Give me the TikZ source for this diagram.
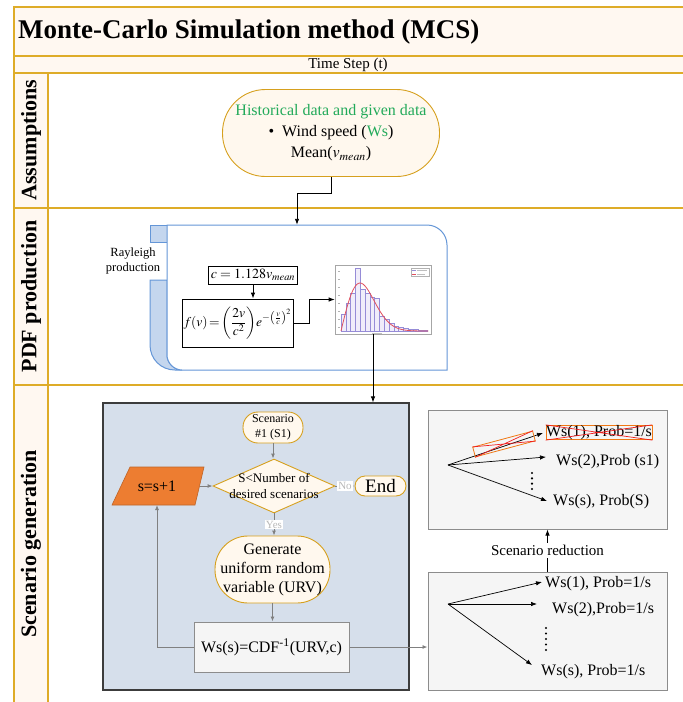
\documentclass[tikz,border=0pt]{standalone}
\usepackage{mathptmx}
\usepackage{fontspec}
\setmainfont{Liberation Serif}
\usetikzlibrary{arrows.meta,shapes.geometric,calc}
\definecolor{gold}{RGB}{222,172,40}
\definecolor{cream}{RGB}{255,248,241}
\definecolor{stadfill}{RGB}{255,248,238}
\definecolor{stadline}{RGB}{214,160,30}
\definecolor{pdfline}{RGB}{100,150,215}
\definecolor{pdffill}{RGB}{196,214,238}
\definecolor{sgfill}{RGB}{214,223,235}
\definecolor{sgline}{RGB}{60,60,60}
\definecolor{boxfill}{RGB}{245,245,245}
\definecolor{boxline}{RGB}{140,140,140}
\definecolor{arrgray}{RGB}{128,128,128}
\definecolor{orng}{RGB}{237,125,49}
\definecolor{txtgreen}{RGB}{34,170,90}
\definecolor{labgray}{RGB}{185,185,185}
\definecolor{xred}{RGB}{240,30,30}
\definecolor{xorange}{RGB}{240,120,20}
\definecolor{barline}{RGB}{150,140,215}
\definecolor{barfill}{RGB}{240,237,250}
\definecolor{curvered}{RGB}{225,80,95}
\begin{document}
\begin{tikzpicture}[x=1pt,y=-1pt,
  arr/.style={-{Latex[length=6pt,width=4.5pt]}, black, line width=0.9pt},
  garr/.style={-{Latex[length=5pt,width=4pt]}, arrgray, line width=0.9pt},
  stad/.style={draw=stadline, fill=stadfill, line width=0.9pt, inner sep=1pt, align=center},
  plainbox/.style={draw=black, line width=0.8pt, inner sep=1pt},
  greybox/.style={draw=boxline, fill=boxfill, line width=1pt, inner sep=0pt},
  lbl/.style={fill=white, text=labgray, inner sep=1pt, font=\fontsize{11}{13}\selectfont},
  rowlab/.style={rotate=90, inner sep=0pt, font=\bfseries\fontsize{22}{26}\selectfont},
  fsixteen/.style={font=\fontsize{16}{19}\selectfont},
  goldline/.style={draw=gold, line width=1.5pt}
]
\useasboundingbox (0,0) rectangle (683,702);
% backgrounds
\fill[cream] (14,7) rectangle (683,73);
\fill[cream] (14,73) rectangle (48,702);
\draw[goldline] (683,7) -- (14,7) -- (14,702);
\draw[goldline] (14,56) -- (683,56);
\draw[goldline] (14,73) -- (683,73);
\draw[goldline] (48,73) -- (48,702);
\draw[goldline] (14,208) -- (683,208);
\draw[goldline] (14,385) -- (683,385);
% titles
\node[anchor=west, inner sep=0pt, font=\bfseries\fontsize{27}{32}\selectfont] (title) at (18,32) {Monte-Carlo Simulation method (MCS)};
\node[inner sep=0pt, font=\fontsize{15}{18}\selectfont] (tstep) at (348,65) {Time Step (t)};
\node[rowlab] (labA) at (31,140) {Assumptions};
\node[rowlab] (labB) at (31,296.5) {PDF production};
\node[rowlab] (labC) at (31,544) {Scenario generation};
% assumptions
\node[stad, rounded corners=43pt, minimum width=217pt, minimum height=87pt, font=\fontsize{16}{21}\selectfont] (hist) at (331,133)
  {\textcolor{txtgreen}{Historical data and given data}\\ \textbullet\enspace Wind speed (\textcolor{txtgreen}{Ws})\\ Mean($v_{mean}$)};
% PDF box shapes
\draw[draw=pdfline, fill=pdffill, line width=1pt] (150,225) rectangle (167,242);
\draw[draw=pdfline, fill=pdffill, line width=1pt] (150,280) -- (167,280) -- (167,355) .. controls (167,363) and (174,370) .. (182,370) -- (175,370) .. controls (161,370) and (150,359) .. (150,345) -- cycle;
\draw[draw=pdfline, fill=white, line width=1pt] (167,225) -- (427,225) .. controls (438,225) and (447,234) .. (447,245) -- (447,370) -- (182,370) .. controls (174,370) and (167,363) .. (167,355) -- cycle;
\node[minimum width=280pt, minimum height=145pt, inner sep=0pt] (pdfbox) at (307,297.5) {};
\node[align=center, inner sep=0pt, font=\fontsize{12.5}{15}\selectfont] (rayl) at (133,261) {Rayleigh\\production};
\node[plainbox, minimum width=80pt, minimum height=18pt, inner sep=2pt, font=\fontsize{14}{17}\selectfont] (cbox) at (253,275) {$c=1.128v_{mean}$};
\node[plainbox, minimum width=111pt, minimum height=48pt, inner sep=1pt, font=\fontsize{13.5}{16}\selectfont] (fbox) at (237.5,323)
  {$f(v)\!=\!\left(\displaystyle\frac{2v}{c^2}\right)\!e^{-\left(\frac{v}{c}\right)^2}$};
% chart
\node[draw=gray!70, fill=white, line width=0.6pt, minimum width=96pt, minimum height=69pt, inner sep=0pt] (chart) at (383,299.5) {};
\foreach \t [count=\i from 0] in {314,303,293,268,289,293,297,298,316,319,323,326,327,328,329,329.5,330,330.3}
  {\draw[barline, fill=barfill, line width=0.4pt] ({341+4.8*\i},331) rectangle ({341+4.8*(\i+1)},\t);}
\draw[curvered, line width=0.8pt, domain=0:4.6, samples=60, smooth] plot ({341+19*\x},{331-48*\x*exp(0.5-\x*\x/2)});
\draw[gray!60, line width=0.3pt] (411,268) rectangle (429,276);
\draw[barline, line width=0.4pt] (412,270) -- (416,270);
\draw[curvered, line width=0.4pt] (412,274) -- (416,274);
\draw[gray!50, line width=0.4pt] (417,270) -- (427,270) (417,274) -- (425,274);
\foreach \yy in {271,279,...,327} {\draw[gray!60, line width=0.3pt] (338,\yy) -- (340,\yy);}
\draw[gray!50, line width=0.5pt] (372,333) -- (382,333);
% connectors upper part
\draw[arr] (hist.south) -- ++(0,16) -| ([xshift=-10pt]pdfbox.north);
\draw[arr] (cbox.south) -- (cbox.south |- fbox.north);
\draw[arr] (fbox.east) -- ++(16,0) |- (chart.west);
% scenario generation box
\node[draw=sgline, fill=sgfill, line width=1.1pt, minimum width=306pt, minimum height=287pt, inner sep=0pt] (sgbox) at (256,546.5) {};
\draw[arr] ([xshift=-10pt]chart.south) -- ([xshift=-10pt]chart.south |- sgbox.north);
\node[stad, rounded corners=15pt, minimum width=60pt, minimum height=31pt, font=\fontsize{12}{15}\selectfont] (sone) at (273,427.5) {Scenario\\\#1 (S1)};
\node[diamond, draw=stadline, fill=stadfill, line width=0.9pt, minimum width=122pt, minimum height=54pt, inner sep=0pt] (dec) at (274,486) {};
\node[align=center, inner sep=0pt, font=\fontsize{13}{16}\selectfont] (dectxt) at (274,486) {S<Number of\\desired scenarios};
\node[stad, rounded corners=10pt, minimum width=51pt, minimum height=20pt, inner sep=0pt, font=\fontsize{19}{22}\selectfont] (endn) at (380.5,486) {End};
\draw[fill=orng, draw=orng!80!black, line width=0.6pt] (130,467) -- (204,467) -- (195,505) -- (112,505) -- cycle;
\node[inner sep=0pt, fsixteen] (sinc) at (157,486) {s=s+1};
\coordinate (sincR) at (200,486);
\coordinate (sincB) at (157,505);
\node[stad, rounded corners=33pt, minimum width=115pt, minimum height=67pt, font=\fontsize{16}{19}\selectfont] (gen) at (272.5,569.5) {Generate\\uniform random\\variable (URV)};
\node[greybox, minimum width=155pt, minimum height=50pt, fsixteen] (wsb) at (271.5,647) {Ws(s)=CDF\textsuperscript{-1}(URV,c)};
\draw[garr] (sone.south) -- (sone.south |- dec.north);
\draw[garr] (dec.east) -- node[lbl]{No} (endn.west);
\draw[garr] (dec.south) -- node[lbl]{Yes} (dec.south |- gen.north);
\draw[garr] (sincR) -- (dec.west);
\draw[garr] (gen.south) -- (gen.south |- wsb.north);
\draw[garr] (wsb.west) -| (sincB);
% right boxes
\node[greybox, minimum width=239pt, minimum height=118pt] (redA) at (547.5,631) {};
\node[greybox, minimum width=239pt, minimum height=119pt] (redB) at (547.5,469.5) {};
\draw[garr] (wsb.east) -- (wsb.east -| redA.west);
\draw[arr] (redA.north) -- node[fill=white, inner sep=2pt, font=\fontsize{15}{18}\selectfont] (redlab) {Scenario reduction} (redB.south);
% lower box content
\coordinate (oA) at (448,604);
\coordinate (tA1) at (542,582);
\coordinate (tA2) at (537,604);
\coordinate (tA3) at (532,665);
\draw[arr, line width=0.7pt] (oA) -- (tA1);
\draw[arr, line width=0.7pt] (oA) -- (tA2);
\draw[arr, line width=0.7pt] (oA) -- (tA3);
\node[anchor=west, inner sep=0pt, fsixteen] (wa1) at (545,584) {Ws(1), Prob=1/s};
\node[anchor=west, inner sep=0pt, fsixteen] (wa2) at (552,610) {Ws(2),Prob=1/s};
\node[anchor=west, inner sep=0pt, fsixteen] (wa3) at (541,672) {Ws(s), Prob=1/s};
\foreach \yy in {628,633.5,639,644.5,650} {\fill[black] (546,\yy) circle (1.2pt);}
% upper box content
\coordinate (oB) at (448,465);
\coordinate (tB1) at (543,433);
\coordinate (tB2) at (546,457);
\coordinate (tB3) at (547,501);
\draw[arr, line width=0.7pt] (oB) -- (tB1);
\draw[arr, line width=0.7pt] (oB) -- (tB2);
\draw[arr, line width=0.7pt] (oB) -- (tB3);
\node[draw=xorange, line width=0.8pt, inner sep=0pt, minimum width=106pt, minimum height=13pt, fsixteen] (wb1) at (599,432.5) {Ws(1), Prob=1/s};
\draw[xred, line width=0.7pt] (wb1.north west) -- (wb1.south east) (wb1.south west) -- (wb1.north east);
\node[draw=xorange, line width=0.8pt, rotate=15, minimum width=62pt, minimum height=10pt, inner sep=0pt] (xbox) at (504,444) {};
\draw[xred, line width=0.7pt] (xbox.north west) -- (xbox.south east) (xbox.south west) -- (xbox.north east);
\node[anchor=west, inner sep=0pt, fsixteen] (wb2) at (556,462) {Ws(2),Prob (s1)};
\node[anchor=west, inner sep=0pt, fsixteen] (wb3) at (553,502) {Ws(s), Prob(S)};
\foreach \yy in {473,478.3,483.6,489} {\fill[black] (532,\yy) circle (1.2pt);}
\end{tikzpicture}
\end{document}
